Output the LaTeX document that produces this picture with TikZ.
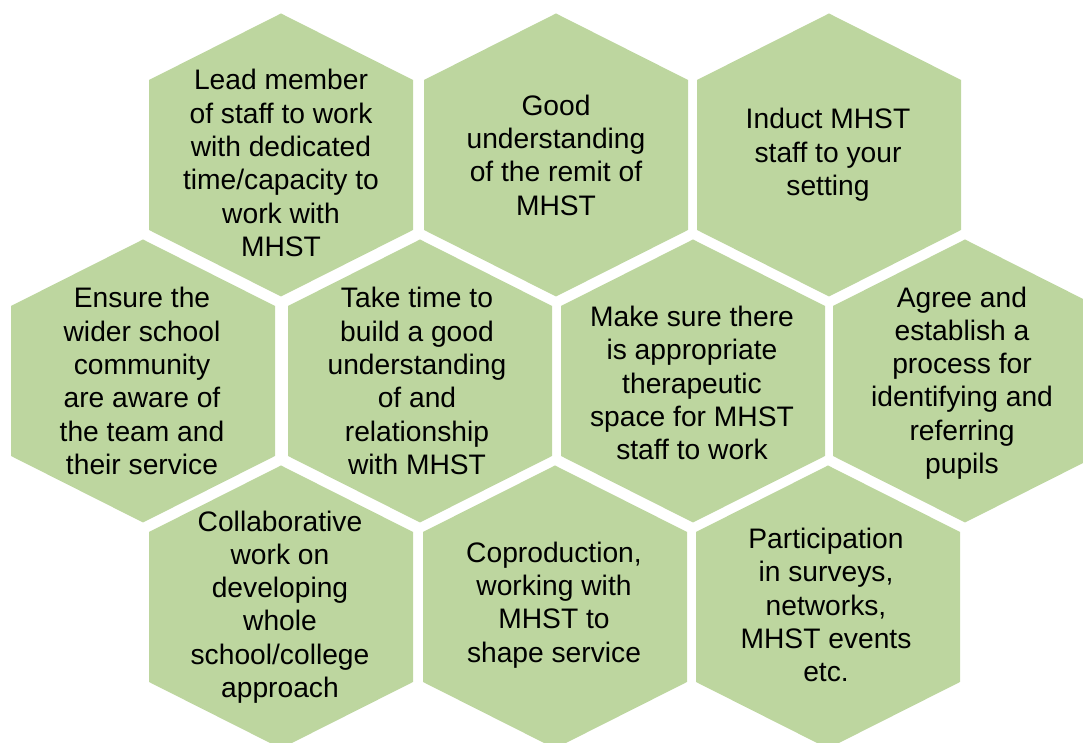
\documentclass[tikz,border=0pt]{standalone}
\usepackage{fontspec}
\setmainfont{Liberation Sans}
\usepackage[svgnames]{xcolor}
\usetikzlibrary{positioning}
\definecolor{hexgreen}{RGB}{189,214,159}
\tikzset{hexcell/.style = {fill=hexgreen, draw=none}}
\tikzset{hextext/.style = {align=center, inner sep=0, text=black,
    font=\fontsize{14.1}{16.65}\selectfont}}
% pointy-top hexagon around a centre point
\newcommand{\hexcell}[2]{%
  \fill[hexcell] (#1,#2+141.5) -- (#1+132,#2+75) -- (#1+132,#2-75)
    -- (#1,#2-141.5) -- (#1-132,#2-75) -- (#1-132,#2+75) -- cycle;}

\begin{document}
\begin{tikzpicture}[x=0.5pt,y=0.5pt]
    \useasboundingbox (0,0) rectangle (1083,743);
    \clip (0,0) rectangle (1083,743);

    % top row
    \hexcell{281}{588}
    \hexcell{556}{588}
    \hexcell{829}{588}
    \node[hextext] (lead) at (281,580)
      {Lead member\\of staff to work\\with dedicated\\time/capacity to\\work with\\MHST};
    \node[hextext] (remit) at (556,588)
      {Good\\understanding\\of the remit of\\MHST};
    \node[hextext] (induct) at (828,588)
      {Induct MHST\\staff to your\\setting};

    % middle row
    \hexcell{143}{362}
    \hexcell{420}{362}
    \hexcell{693}{362}
    \hexcell{965}{362}
    \node[hextext] (aware) at (142,362)
      {Ensure the\\wider school\\community\\are aware of\\the team and\\their service};
    \node[hextext] (rapport) at (417,362)
      {Take time to\\build a good\\understanding\\of and\\relationship\\with MHST};
    \node[hextext] (space) at (692,360)
      {Make sure there\\is appropriate\\therapeutic\\space for MHST\\staff to work};
    \node[hextext] (referral) at (962,360)
      {Agree and\\establish a\\process for\\identifying and\\referring\\pupils};

    % bottom row
    \hexcell{281}{136}
    \hexcell{555}{136}
    \hexcell{828}{136}
    \node[hextext] (collab) at (280,136)
      {Collaborative\\work on\\developing\\whole\\school/college\\approach};
    \node[hextext] (coprod) at (554,138)
      {Coproduction,\\working with\\MHST to\\shape service};
    \node[hextext] (survey) at (826,138)
      {Participation\\in surveys,\\networks,\\MHST events\\etc.};
\end{tikzpicture}
\end{document}
